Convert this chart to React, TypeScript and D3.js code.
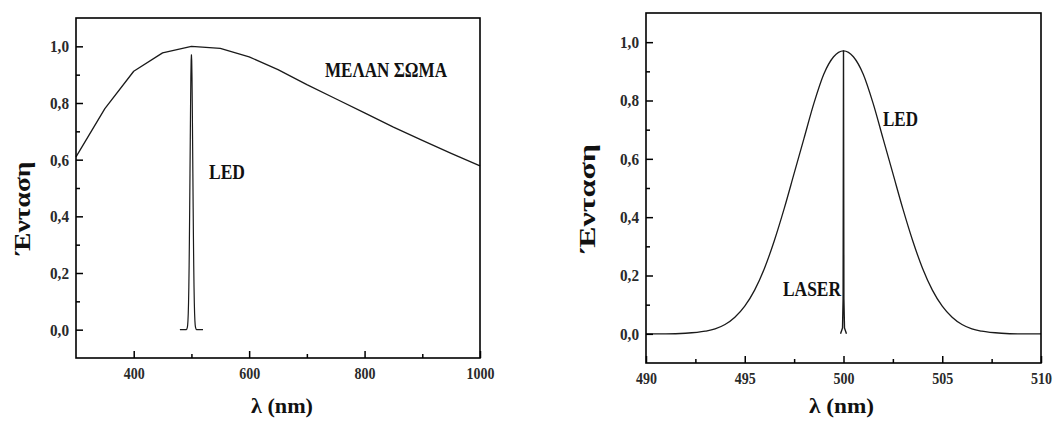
import React, { useEffect, useRef } from 'react';
import * as d3 from 'd3';

// black body spectrum (left panel)
const bbWavelength = [300, 350, 400, 450, 500, 550, 600, 650, 700, 750, 800, 850, 900, 950, 1000];
const bbIntensity = [0.61, 0.78, 0.912, 0.977, 1.0, 0.993, 0.963, 0.918, 0.865, 0.815, 0.765, 0.715, 0.668, 0.622, 0.578];

// LED emission line around 500 nm
const ledWavelength = [490, 491, 492, 493, 493.5, 494, 494.5, 495, 495.5, 496, 496.5, 497, 497.5, 498, 498.5, 499, 499.5,
    500, 500.5, 501, 501.5, 502, 502.5, 503, 503.5, 504, 504.5, 505, 505.5, 506, 506.5, 507, 508, 509, 510];
const ledIntensity = [0, 0, 0.002, 0.009, 0.017, 0.032, 0.057, 0.095, 0.15, 0.225, 0.32, 0.43, 0.55, 0.67, 0.79, 0.89, 0.95,
    0.97, 0.95, 0.89, 0.79, 0.67, 0.55, 0.43, 0.32, 0.225, 0.15, 0.095, 0.057, 0.032, 0.017, 0.009, 0.002, 0, 0];
// flat base of the LED line drawn on the wide scale
const ledBaseWavelength = [480, 520];

// laser line
const laserWavelength = [499.85, 499.95, 499.98, 500, 500.02, 500.05, 500.15];
const laserIntensity = [0, 0.02, 0.12, 0.97, 0.12, 0.02, 0];

// axis ticks
const leftXTicks = [400, 600, 800, 1000];
const leftXMinor = [500, 700, 900];
const rightXTicks = [490, 495, 500, 505, 510];
const rightXMinor = [492.5, 497.5, 502.5, 507.5];
const yTicks = [0, 0.2, 0.4, 0.6, 0.8, 1.0];
const yMinor = [0.1, 0.3, 0.5, 0.7, 0.9];

const FONT = '"Liberation Serif", "Times New Roman", serif';
const INK = '#1a1a1a';

const commaFmt = d3.formatLocale({ decimal: ',', thousands: '.', grouping: [3], currency: ['', ''] }).format('.1f');

type Pt = [number, number];
const zip = (xs: number[], ys: number[]): Pt[] => xs.map((x, i) => [x, ys[i]]);

// the scanned figure has tall, narrow tick digits
const labelWidth = (s: string) => s.replace(/[^0-9]/g, '').length * 7 + (s.includes(',') ? 5 : 0);

function drawPanel(svg: any, opts: any) {
    const { left, right, top, bottom, xDomain, xTicks, xMinor, xFmt, series, labels, yLabel } = opts;

    const x = d3.scaleLinear().domain(xDomain).range([left, right]);
    const y = d3.scaleLinear().domain([-0.1, 1.1]).range([bottom, top]);

    const g = svg.append('g');

    // curves
    series.forEach((s: any) => {
        const line = d3.line<Pt>()
            .x(d => x(d[0]))
            .y(d => y(d[1]))
            .curve(s.curve || d3.curveLinear);
        g.append('path')
            .datum(s.data)
            .attr('fill', 'none')
            .attr('stroke', INK)
            .attr('stroke-width', s.width || 1.3)
            .attr('stroke-linejoin', 'round')
            .attr('d', line);
    });

    // axes, ticks pointing inward
    const styleAxis = (sel: any) => {
        sel.select('.domain').remove();
        sel.selectAll('line').attr('stroke', '#000').attr('stroke-width', 1.5);
        sel.selectAll('text')
            .attr('fill', '#2a2a2a')
            .attr('textLength', function (this: any) { return labelWidth(this.textContent || '') || null; })
            .attr('lengthAdjust', 'spacingAndGlyphs')
            .style('font-family', FONT)
            .style('font-weight', 'bold')
            .style('font-size', '17px');
    };

    g.append('g')
        .attr('transform', `translate(0,${bottom})`)
        .call(d3.axisBottom(x).tickValues(xTicks).tickSizeInner(-7).tickSizeOuter(0).tickPadding(9).tickFormat(xFmt))
        .call(styleAxis);
    g.append('g')
        .attr('transform', `translate(0,${bottom})`)
        .call(d3.axisBottom(x).tickValues(xMinor).tickSizeInner(-4).tickSizeOuter(0).tickFormat(() => ''))
        .call(styleAxis);
    g.append('g')
        .attr('transform', `translate(${left},0)`)
        .call(d3.axisLeft(y).tickValues(yTicks).tickSizeInner(-7).tickSizeOuter(0).tickPadding(7).tickFormat(commaFmt))
        .call(styleAxis);
    g.append('g')
        .attr('transform', `translate(${left},0)`)
        .call(d3.axisLeft(y).tickValues(yMinor).tickSizeInner(-4).tickSizeOuter(0).tickFormat(() => ''))
        .call(styleAxis);

    // frame
    g.append('rect')
        .attr('x', left).attr('y', top)
        .attr('width', right - left).attr('height', bottom - top)
        .attr('fill', 'none')
        .attr('stroke', '#000')
        .attr('stroke-width', 1.6);

    // in-plot labels
    labels.forEach((l: any) => {
        g.append('text')
            .attr('x', l.x).attr('y', l.y)
            .attr('textLength', l.len)
            .attr('lengthAdjust', 'spacingAndGlyphs')
            .style('font-family', FONT)
            .style('font-weight', 'bold')
            .style('font-size', '20px')
            .attr('fill', '#111')
            .text(l.text);
    });

    // axis titles
    g.append('text')
        .attr('x', (left + right) / 2 + opts.xTitleShift)
        .attr('y', 413)
        .attr('text-anchor', 'middle')
        .attr('textLength', opts.xTitleLen)
        .attr('lengthAdjust', 'spacingAndGlyphs')
        .style('font-family', FONT)
        .style('font-weight', 'bold')
        .style('font-size', '22px')
        .attr('fill', '#111')
        .text('λ (nm)');

    g.append('text')
        .attr('transform', `translate(${yLabel.x},${yLabel.y}) rotate(-90)`)
        .attr('text-anchor', 'middle')
        .attr('textLength', yLabel.len)
        .attr('lengthAdjust', 'spacingAndGlyphs')
        .style('font-family', FONT)
        .style('font-weight', 'bold')
        .style('font-size', '23px')
        .attr('fill', '#111')
        .text('Ένταση');
}

const App = () => {
    const svgRef = useRef<SVGSVGElement>(null);

    useEffect(() => {
        if (!svgRef.current) return;
        const svg = d3.select(svgRef.current);
        svg.selectAll('*').remove();

        const ledData = zip(ledWavelength, ledIntensity);
        const ledWide: Pt[] = [[ledBaseWavelength[0], 0], ...ledData, [ledBaseWavelength[1], 0]];

        drawPanel(svg, {
            left: 76, right: 480, top: 18, bottom: 358,
            xDomain: [300, 1000],
            xTicks: leftXTicks, xMinor: leftXMinor,
            xFmt: d3.format('d'),
            series: [
                { data: zip(bbWavelength, bbIntensity) },
                { data: ledWide, width: 1.2 },
            ],
            labels: [
                { text: 'ΜΕΛΑΝ ΣΩΜΑ', x: 325, y: 77, len: 122 },
                { text: 'LED', x: 209, y: 179, len: 36 },
            ],
            xTitleShift: 4, xTitleLen: 62,
            yLabel: { x: 30, y: 208, len: 93 },
        });

        drawPanel(svg, {
            left: 646, right: 1041, top: 13, bottom: 363,
            xDomain: [490, 510],
            xTicks: rightXTicks, xMinor: rightXMinor,
            xFmt: d3.format('d'),
            series: [
                { data: ledData, curve: d3.curveMonotoneX },
                { data: zip(laserWavelength, laserIntensity), width: 1.4 },
            ],
            labels: [
                { text: 'LED', x: 883, y: 126, len: 35 },
                { text: 'LASER', x: 783, y: 296, len: 58 },
            ],
            xTitleShift: -2, xTitleLen: 65,
            yLabel: { x: 595, y: 198, len: 108 },
        });
    }, []);

    return (
        <svg ref={svgRef} width={1058} height={423}
            style={{ position: 'absolute', left: 0, top: 0, background: '#fff' }} />
    );
};

export default App;
